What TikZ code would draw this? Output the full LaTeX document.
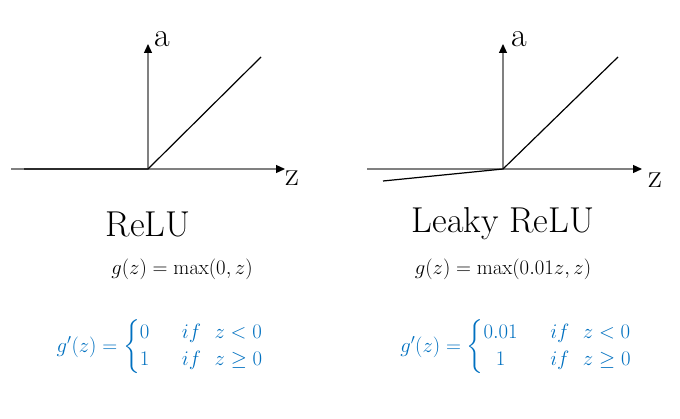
\documentclass[tikz,border=0pt]{standalone}
\usepackage{amsmath,amssymb}
\usepackage{tikz}
\usetikzlibrary{arrows.meta, positioning}
\definecolor{axisgray}{RGB}{128,128,128}
\definecolor{derivblue}{RGB}{0,112,192}

\begin{document}
\begin{tikzpicture}[x=1pt, y=-1pt,
    axis/.style={axisgray, line width=1.2pt, -{Triangle[length=9pt,width=8pt,color=black]}},
    curve/.style={black, line width=1.2pt},
    axlabel/.style={font=\fontsize{34}{40}\selectfont, inner sep=0pt},
    title/.style={font=\fontsize{36}{42}\selectfont, inner sep=0pt},
    formula/.style={font=\fontsize{19.5}{24}\selectfont, inner sep=0pt},
    deriv/.style={font=\fontsize{22.5}{27}\selectfont, derivblue, inner sep=0pt}]
  \useasboundingbox (0,0) rectangle (680,419);
  % Left axes (ReLU)
  \coordinate (o1) at (148,169);
  \coordinate (zs1) at (11,169);
  \coordinate (ze1) at (285,169);
  \coordinate (ae1) at (148,44);
  \draw[axis] (zs1) -- (ze1);
  \draw[axis] (o1) -- (ae1);
  \node[axlabel] (a1) at (162,39) {a};
  \node[axlabel] (z1) at (292,178) {z};
  % ReLU curve
  \coordinate (l1) at (24,169);
  \coordinate (r1) at (261,57);
  \draw[curve] (l1) -- (o1) -- (r1);
  % Right axes (Leaky ReLU)
  \coordinate (o2) at (503,169);
  \coordinate (zs2) at (367,169);
  \coordinate (ze2) at (642,169);
  \coordinate (ae2) at (503,44);
  \draw[axis] (zs2) -- (ze2);
  \draw[axis] (o2) -- (ae2);
  \node[axlabel] (a2) at (519,39) {a};
  \node[axlabel] (z2) at (655,180) {z};
  % Leaky ReLU curve
  \coordinate (l2) at (383,181);
  \coordinate (r2) at (618,57);
  \draw[curve] (l2) -- (o2) -- (r2);
  % Titles
  \node[title] (relu) at (148,224) {ReLU};
  \node[title] (leaky) at (503,224) {Leaky ReLU};
  % Functions
  \node[formula] (g1) at (182,269) {$g(z) = \max(0,z)$};
  \node[formula] (g2) at (503,269) {$g(z) = \max(0.01z,z)$};
  % Derivatives
  \node[deriv] (d1) at (160,347)
    {$g'(z) = \left\{\begin{array}{@{}cl@{}} 0 & \quad if\ \ z < 0\\ 1 & \quad if\ \ z \geq 0 \end{array}\right.$};
  \node[deriv] (d2) at (516,347)
    {$g'(z) = \left\{\begin{array}{@{}cl@{}} 0.01 & \quad if\ \ z < 0\\ 1 & \quad if\ \ z \geq 0 \end{array}\right.$};
\end{tikzpicture}
\end{document}
